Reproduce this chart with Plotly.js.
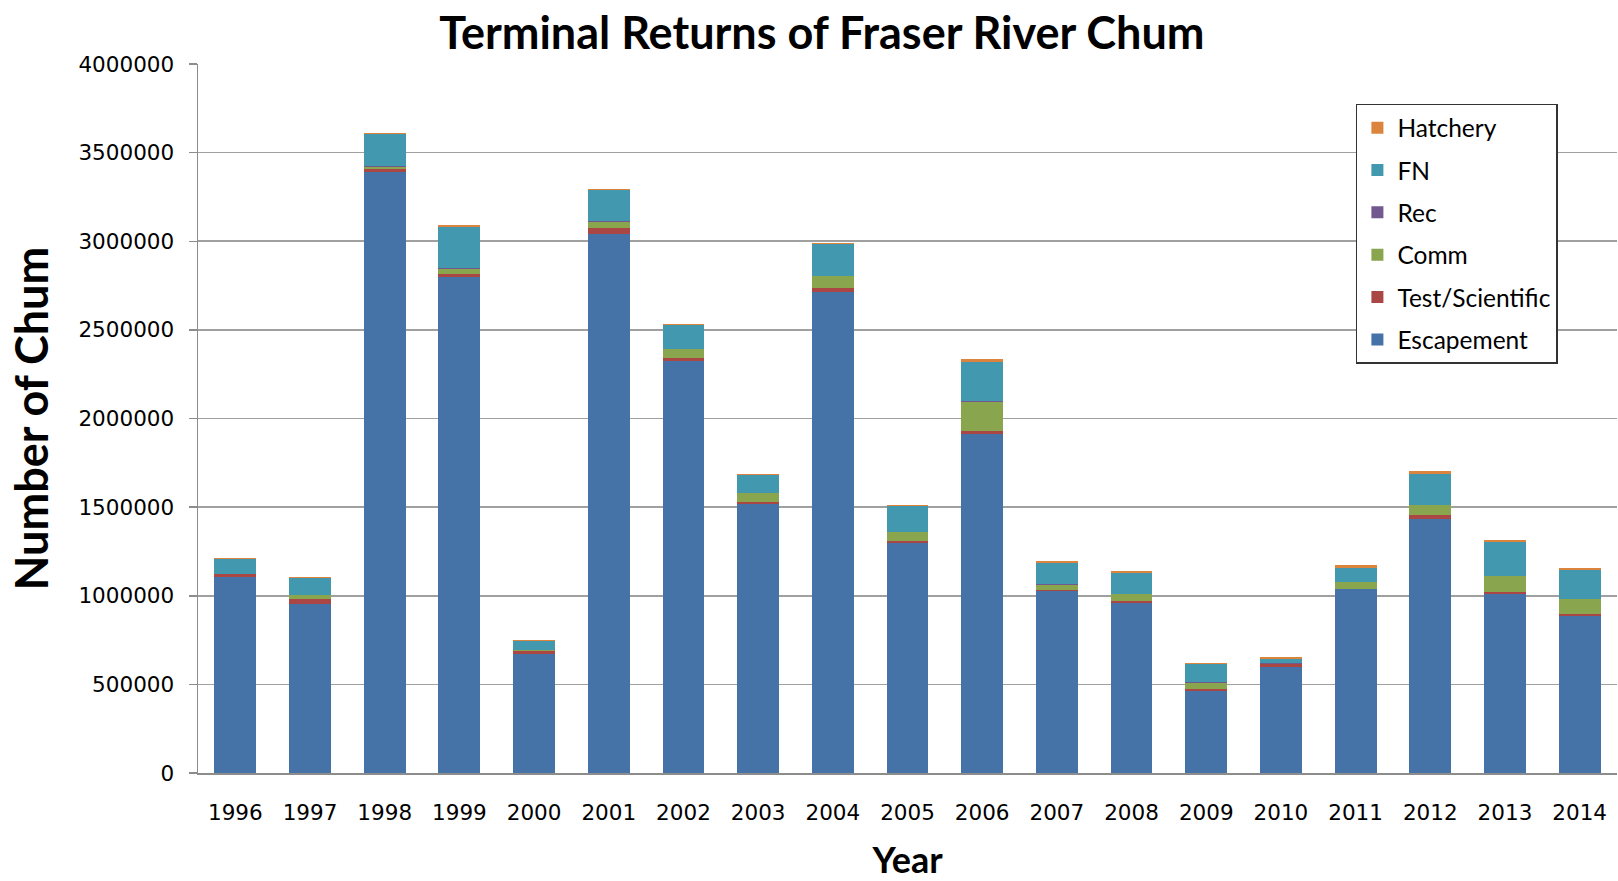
<!DOCTYPE html>
<html>
<head>
<meta charset="utf-8">
<script src="https://cdn.plot.ly/plotly-3.0.1.min.js"></script>
<style>html,body{margin:0;padding:0;background:#fff;}#chart{width:1618px;height:881px;}</style>
</head>
<body>
<div id="chart"></div>
<script>
const years = ['1996','1997','1998','1999','2000','2001','2002','2003','2004','2005','2006','2007','2008','2009','2010','2011','2012','2013','2014'];
const escapement = [1105000, 952000, 3388000, 2799000, 670000, 3040000, 2323000, 1516000, 2714000, 1296000, 1910000, 1025000, 959000, 461000, 598000, 1037000, 1433000, 1012000, 886000];
const testScientific = [15000, 28000, 21000, 19000, 20000, 32000, 19000, 13000, 20000, 12000, 20000, 6000, 12000, 11000, 19000, 3000, 21000, 9000, 10000];
const comm = [2000, 23000, 11000, 28000, 2000, 38000, 49000, 48000, 69000, 52000, 164000, 32000, 37000, 38000, 0, 38000, 57000, 91000, 83000];
const rec = [1000, 1000, 2000, 2000, 1000, 2000, 2000, 2000, 2000, 2000, 3000, 2000, 2000, 2000, 1000, 2000, 3000, 2000, 2000];
const fn = [85000, 94000, 183000, 235000, 51000, 178000, 135000, 101000, 181000, 143000, 220000, 122000, 121000, 102000, 26000, 75000, 172000, 192000, 165000];
const hatchery = [7000, 7000, 7000, 6000, 8000, 6000, 6000, 6000, 5000, 6000, 19000, 9000, 8000, 7000, 8000, 19000, 17000, 7000, 9000];

const seriesNames = ['Escapement', 'Test/Scientific', 'Comm', 'Rec', 'FN', 'Hatchery'];
const seriesValues = [escapement, testScientific, comm, rec, fn, hatchery];
const seriesColors = ['#4572A7', '#AA4643', '#89A54E', '#71588F', '#4198AF', '#DB843D'];

const traces = seriesNames.map((name, i) => ({
  type: 'bar',
  name: name,
  x: years,
  y: seriesValues[i],
  legendgroup: name,
  legendrank: 1000 - i,
  marker: {color: seriesColors[i], line: {width: 0}}
}));

const layout = {
  width: 1618,
  height: 881,
  barmode: 'stack',
  bargap: 0.44,
  paper_bgcolor: '#ffffff',
  plot_bgcolor: '#ffffff',
  margin: {l: 198, r: 1, t: 63.5, b: 108.3},
  title: {
    text: '<b>Terminal Returns of Fraser River Chum</b>',
    font: {family: 'Lato, sans-serif', size: 45, color: '#000'},
    x: 0.508, xanchor: 'center',
    y: 0.962, yanchor: 'middle'
  },
  font: {family: 'DejaVu Sans, sans-serif', color: '#000'},
  xaxis: {
    type: 'category',
    showline: true, linecolor: '#8c8c8c', linewidth: 1.5,
    ticks: '', showgrid: false,
    tickfont: {family: 'DejaVu Sans, sans-serif', size: 21.5, color: '#000'},
    ticklabelstandoff: 20,
    title: {text: '<b>Year</b>', font: {family: 'Lato, sans-serif', size: 36, color: '#000'}, standoff: 45}
  },
  yaxis: {
    range: [0, 4000000],
    dtick: 500000,
    tickformat: 'd',
    showline: true, linecolor: '#8c8c8c', linewidth: 1.5,
    ticks: 'outside', ticklen: 8, tickcolor: '#8c8c8c', tickwidth: 1.5,
    showgrid: true, gridcolor: '#a0a0a0', gridwidth: 1.6,
    zeroline: false,
    tickfont: {family: 'DejaVu Sans, sans-serif', size: 21.5, color: '#000'},
    ticklabelstandoff: 10,
    title: {text: '<b>Number of Chum</b>', font: {family: 'Lato, sans-serif', size: 45, color: '#000'}, standoff: 15}
  },
  legend: {
    traceorder: 'grouped',
    tracegroupgap: 7.5,
    x: 0.816, xanchor: 'left',
    y: 0.944, yanchor: 'top',
    bgcolor: '#ffffff',
    bordercolor: '#333333', borderwidth: 1.5,
    font: {family: 'Lato, sans-serif', size: 24.5, color: '#000'},
    itemwidth: 30
  },
  showlegend: true
};

Plotly.newPlot('chart', traces, layout, {displayModeBar: false, staticPlot: true});
</script>
</body>
</html>
